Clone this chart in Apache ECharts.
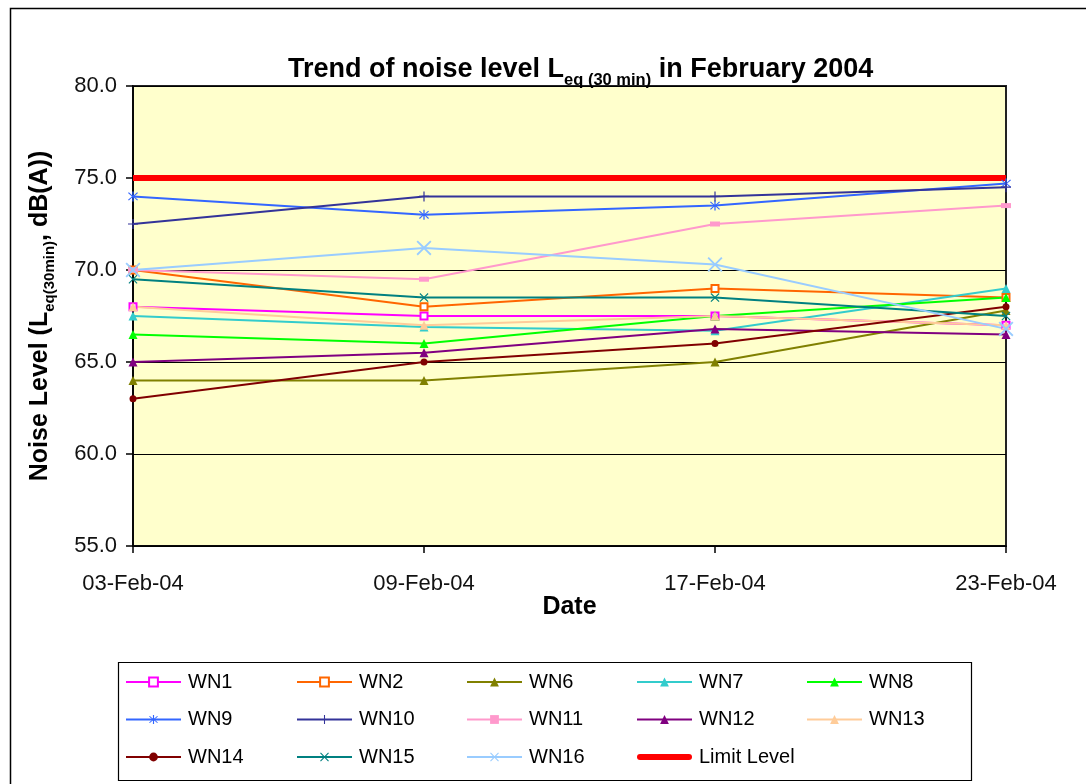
<!DOCTYPE html>
<html>
<head>
<meta charset="utf-8">
<script src="https://cdn.jsdelivr.net/npm/echarts@6/dist/echarts.min.js"></script>
<style>
html,body{margin:0;padding:0;background:#fff;}
#c{width:1086px;height:784px;}
</style>
</head>
<body>
<div id="c"></div>
<script>
const categories = ['03-Feb-04', '09-Feb-04', '17-Feb-04', '23-Feb-04'];
const yTicks = [55, 60, 65, 70, 75, 80];

const WN1  = [68.0, 67.5, 67.5, 67.0];
const WN2  = [70.0, 68.0, 69.0, 68.5];
const WN6  = [64.0, 64.0, 65.0, 67.8];
const WN7  = [67.5, 66.9, 66.7, 69.0];
const WN8  = [66.5, 66.0, 67.5, 68.5];
const WN9  = [74.0, 73.0, 73.5, 74.7];
const WN10 = [72.5, 74.0, 74.0, 74.5];
const WN11 = [70.0, 69.5, 72.5, 73.5];
const WN12 = [65.0, 65.5, 66.8, 66.5];
const WN13 = [68.0, 67.0, 67.5, 67.0];
const WN14 = [63.0, 65.0, 66.0, 68.0];
const WN15 = [69.5, 68.5, 68.5, 67.5];
const WN16 = [70.0, 71.2, 70.3, 66.8];
const LIMIT = [75, 75, 75, 75];

const PLUS = 'path://M4.4,0H5.6V4.4H10V5.6H5.6V10H4.4V5.6H0V4.4H4.4Z';
const CROSS = 'path://M1.2,0.4L5,4.2L8.8,0.4L9.6,1.2L5.8,5L9.6,8.8L8.8,9.6L5,5.8L1.2,9.6L0.4,8.8L4.2,5L0.4,1.2Z';
const STAR = 'path://M4.4,0H5.6V4.2L8.8,0.9L9.6,1.7L6,5L9.6,8.3L8.8,9.1L5.6,5.8V10H4.4V5.8L1.2,9.1L0.4,8.3L4,5L0.4,1.7L1.2,0.9L4.4,4.2Z';
const THICK = 'path://M3,0H52A3,3 0 0 1 52,6H3A3,3 0 0 1 3,0Z';

function ln(name, data, color, symbol, size, width) {
  return {
    name: name, type: 'line', data: data,
    symbol: symbol, symbolSize: size, showSymbol: symbol !== 'none',
    lineStyle: { color: color, width: width || 2 },
    itemStyle: { color: color },
    emphasis: { disabled: true },
    animation: false
  };
}

const series = [
  ln('Limit Level', LIMIT, '#FF0000', 'none', 0, 6),
  ln('WN1', WN1, '#FF00FF', 'emptyRect', 7),
  ln('WN2', WN2, '#FF6600', 'emptyRect', 7),
  ln('WN6', WN6, '#808000', 'triangle', 9),
  ln('WN7', WN7, '#33CCCC', 'triangle', 9),
  ln('WN8', WN8, '#00FF00', 'triangle', 9),
  ln('WN9', WN9, '#3366FF', STAR, 10),
  ln('WN10', WN10, '#333399', PLUS, 10),
  ln('WN11', WN11, '#FF99CC', 'rect', [10, 5]),
  ln('WN12', WN12, '#800080', 'triangle', 9),
  ln('WN13', WN13, '#FFCC99', 'triangle', 9),
  ln('WN14', WN14, '#800000', 'circle', 7),
  ln('WN15', WN15, '#008080', CROSS, 9),
  ln('WN16', WN16, '#99CCFF', CROSS, 15)
];

const legendCols = [
  ['WN1', 'WN9', 'WN14'],
  ['WN2', 'WN10', 'WN15'],
  ['WN6', 'WN11', 'WN16'],
  ['WN7', 'WN12', { name: 'Limit Level', icon: THICK }],
  ['WN8', 'WN13']
];
const legendLeft = [125, 296, 466, 636, 806];

const legends = legendCols.map((d, i) => ({
  data: d, orient: 'vertical', left: legendLeft[i], top: 672,
  padding: 0, itemWidth: 55, itemHeight: 11, itemGap: 17.5,
  selectedMode: false,
  textStyle: { fontFamily: 'Liberation Sans', fontSize: 20, color: '#000', lineHeight: 14, padding: [0, 0, 0, 2] }
}));

const chart = echarts.init(document.getElementById('c'), null, { renderer: 'canvas' });
chart.setOption({
  animation: false,
  backgroundColor: '#fff',
  title: {
    text: '{m|Trend of noise level L}{s|eq (30 min)}{m| in February 2004}',
    left: 283, top: 46,
    textStyle: {
      rich: {
        m: { fontFamily: 'Liberation Sans', fontWeight: 'bold', fontSize: 27, color: '#000', lineHeight: 38, verticalAlign: 'middle' },
        s: { fontFamily: 'Liberation Sans', fontWeight: 'bold', fontSize: 16.5, color: '#000', lineHeight: 38, verticalAlign: 'bottom' }
      }
    }
  },
  graphic: [
    { type: 'rect', shape: { x: 10.5, y: 8.5, width: 1200, height: 900 }, style: { fill: 'none', stroke: '#000', lineWidth: 1.5 }, silent: true, z: -1 },
    { type: 'rect', shape: { x: 118.5, y: 662.5, width: 853, height: 118 }, style: { fill: 'none', stroke: '#000', lineWidth: 1.2 }, silent: true, z: -1 }
  ],
  legend: legends,
  grid: {
    left: 133, right: 80, top: 86, bottom: 238,
    show: true, backgroundColor: '#FFFFCC', borderColor: '#222', borderWidth: 2
  },
  xAxis: {
    type: 'category', data: categories, boundaryGap: false,
    name: 'Date', nameLocation: 'middle', nameGap: 49, nameMoveOverlap: false,
    nameTextStyle: { fontFamily: 'Liberation Sans', fontWeight: 'bold', fontSize: 25, color: '#000' },
    axisLine: { lineStyle: { color: '#000', width: 1.5 } },
    axisTick: { show: true, length: 7, lineStyle: { color: '#000', width: 1.5 } },
    axisLabel: { fontFamily: 'Liberation Sans', fontSize: 22, color: '#111', margin: 27 },
    splitLine: { show: false }
  },
  yAxis: {
    type: 'value', min: yTicks[0], max: yTicks[yTicks.length - 1], interval: 5,
    name: '{m|Noise Level (L}{s|eq(30min)}{m|, dB(A))}',
    nameLocation: 'middle', nameGap: 76, nameRotate: 90, nameMoveOverlap: false,
    nameTextStyle: {
      rich: {
        m: { fontFamily: 'Liberation Sans', fontWeight: 'bold', fontSize: 25, color: '#000', lineHeight: 34, verticalAlign: 'middle' },
        s: { fontFamily: 'Liberation Sans', fontWeight: 'bold', fontSize: 15, color: '#000', lineHeight: 34, verticalAlign: 'bottom' }
      }
    },
    axisLine: { show: true, lineStyle: { color: '#000', width: 1.5 } },
    axisTick: { show: true, length: 7, lineStyle: { color: '#000', width: 1.5 } },
    axisLabel: { fontFamily: 'Liberation Sans', fontSize: 22, color: '#111', margin: 16, formatter: v => v.toFixed(1) },
    splitLine: { show: true, lineStyle: { color: '#000', width: 1.2 } }
  },
  series: series
});
</script>
</body>
</html>
